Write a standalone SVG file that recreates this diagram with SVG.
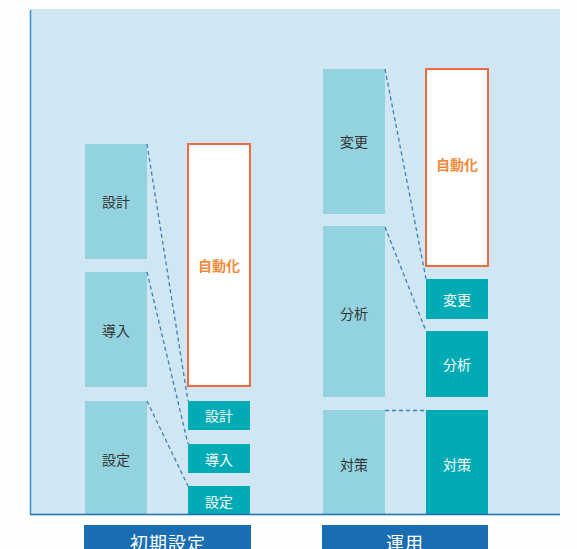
<svg xmlns="http://www.w3.org/2000/svg" width="577" height="549" viewBox="0 0 577 549">
<style>
.src{fill:#93d3e0}
.dst{fill:#00abb5}
.auto{fill:#fff;stroke:#ec6a3e;stroke-width:2}
.t{font-family:"Noto Sans CJK JP","Noto Sans CJK SC",sans-serif;font-size:14px;text-anchor:middle;dominant-baseline:central}
.dk{fill:#333}
.wh{fill:#fff}
.or{fill:#f08a3c;font-weight:bold}
.cn{stroke:#3a7ec0;stroke-width:1.3;stroke-dasharray:4 3;fill:none}
.lab{fill:#1a6db0}
.lt{font-family:"Noto Sans CJK JP","Noto Sans CJK SC",sans-serif;font-size:18px;text-anchor:middle;fill:#fff;letter-spacing:1px}
</style>
<rect x="0" y="0" width="577" height="549" fill="#fdfefe"/>
<rect x="30" y="9" width="530" height="505" fill="#d0e6f2"/>
<g id="src-sekkei"><rect class="src" x="85" y="144" width="62" height="115"/><text class="t dk" x="116" y="201">設計</text></g>
<g id="src-dounyu"><rect class="src" x="85" y="272" width="62" height="115"/><text class="t dk" x="116" y="330">導入</text></g>
<g id="src-settei"><rect class="src" x="85" y="401" width="62" height="113"/><text class="t dk" x="116" y="459">設定</text></g>
<g id="auto-left"><rect class="auto" x="188" y="144" width="62" height="242"/><text class="t or" x="219" y="265">自動化</text></g>
<g id="dst-sekkei"><rect class="dst" x="188" y="401" width="62" height="29"/><text class="t wh" x="219" y="415">設計</text></g>
<g id="dst-dounyu"><rect class="dst" x="188" y="444" width="62" height="29"/><text class="t wh" x="219" y="459">導入</text></g>
<g id="dst-settei"><rect class="dst" x="188" y="486" width="62" height="28"/><text class="t wh" x="219" y="501">設定</text></g>
<g id="src-henkou"><rect class="src" x="323" y="69" width="62" height="145"/><text class="t dk" x="354" y="141">変更</text></g>
<g id="src-bunseki"><rect class="src" x="323" y="226" width="62" height="171"/><text class="t dk" x="354" y="313">分析</text></g>
<g id="src-taisaku"><rect class="src" x="323" y="410" width="62" height="104"/><text class="t dk" x="354" y="464">対策</text></g>
<g id="auto-right"><rect class="auto" x="426" y="69" width="62" height="197"/><text class="t or" x="457" y="164">自動化</text></g>
<g id="dst-henkou"><rect class="dst" x="426" y="279" width="62" height="40"/><text class="t wh" x="457" y="299">変更</text></g>
<g id="dst-bunseki"><rect class="dst" x="426" y="331" width="62" height="66"/><text class="t wh" x="457" y="364">分析</text></g>
<g id="dst-taisaku"><rect class="dst" x="426" y="410" width="62" height="104"/><text class="t wh" x="457" y="464">対策</text></g>
<g id="connectors">
<line class="cn" x1="147" y1="144" x2="188" y2="401"/>
<line class="cn" x1="147" y1="272" x2="188" y2="444"/>
<line class="cn" x1="147" y1="401" x2="188" y2="486"/>
<line class="cn" x1="385" y1="69" x2="426" y2="279"/>
<line class="cn" x1="385" y1="227" x2="426" y2="331"/>
<line class="cn" x1="385" y1="410.5" x2="426" y2="410.5"/>
</g>
<g id="axes">
<line x1="30.5" y1="10" x2="30.5" y2="514" stroke="#3d8bc8" stroke-width="1.5"/>
<line x1="30" y1="514.5" x2="560" y2="514.5" stroke="#1f6fb3" stroke-width="1.5"/>
</g>
<g id="label-shoki"><rect class="lab" x="84" y="525" width="167" height="30"/><text class="lt" x="168" y="550">初期設定</text></g>
<g id="label-unyou"><rect class="lab" x="322" y="525" width="166" height="30"/><text class="lt" x="405" y="550">運用</text></g>
</svg>
